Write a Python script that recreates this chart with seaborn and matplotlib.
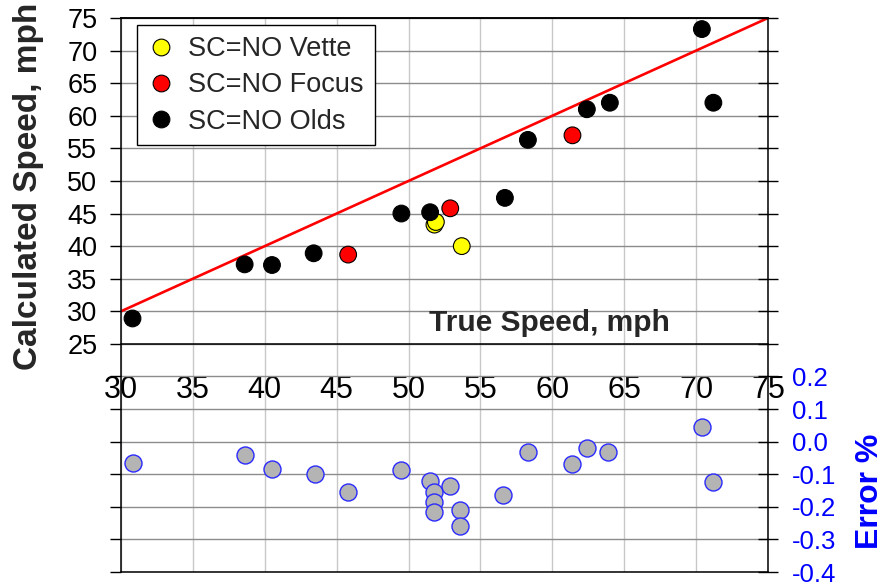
import numpy as np
import pandas as pd
import matplotlib
matplotlib.use("Agg")
import matplotlib.pyplot as plt
import seaborn as sns

sns.set_style("white")
plt.rcParams["font.family"] = ["Liberation Sans", "DejaVu Sans"]

# ---- data ----
vette_true = [51.8, 51.9, 53.7]
vette_calc = [43.3, 43.7, 40.0]
focus_true = [45.8, 52.9, 61.4]
focus_calc = [38.7, 45.8, 57.0]
olds_true = [30.8, 38.6, 40.5, 43.4, 49.5, 51.5, 56.7, 58.3, 62.4, 64.0, 70.4, 71.2]
olds_calc = [28.9, 37.2, 37.1, 38.9, 45.0, 45.2, 47.4, 56.3, 61.0, 62.0, 73.3, 62.0]
series_names = ["SC=NO Vette", "SC=NO Focus", "SC=NO Olds"]
series_colors = ["#ffff00", "#ff0000", "#000000"]

err_true = [30.8, 38.6, 40.5, 43.5, 45.8, 49.5, 51.5, 51.8, 51.8, 51.8,
            52.9, 53.6, 53.6, 56.6, 58.3, 61.4, 62.4, 63.9, 70.4, 71.2]
err_val = [-0.065, -0.040, -0.085, -0.100, -0.155, -0.088, -0.120, -0.155, -0.185, -0.217,
           -0.137, -0.210, -0.258, -0.163, -0.032, -0.070, -0.020, -0.032, 0.045, -0.125]

line_x = [30, 75]
line_y = [30, 75]

x_ticks = list(range(30, 80, 5))
y_ticks = list(range(-10, 80, 5))
err_ticks = [round(v, 1) + 0.0 for v in np.arange(-0.4, 1.31, 0.1)]

df_top = pd.DataFrame({
    "true": vette_true + focus_true + olds_true,
    "calc": vette_calc + focus_calc + olds_calc,
    "car": [series_names[0]] * len(vette_true) + [series_names[1]] * len(focus_true)
           + [series_names[2]] * len(olds_true),
})
df_err = pd.DataFrame({"true": err_true, "err": err_val})

# ---- figure ----
fig = plt.figure(figsize=(8.86, 5.88), dpi=100)
ax = fig.add_axes([121 / 886, 16 / 588, 647 / 886, 554 / 588])
ax.set_xlim(30, 75)
ax.set_ylim(-10, 75)

ax.set_axisbelow(True)
ax.grid(axis="y", color="#8c8c8c", lw=1.0)
ax.grid(axis="x", color="#c8c8c8", lw=1.0)

sns.lineplot(x=line_x, y=line_y, ax=ax, color="#ff0000", lw=1.9, zorder=2)
sns.scatterplot(data=df_top, x="true", y="calc", hue="car", hue_order=series_names,
                palette=dict(zip(series_names, series_colors)), s=145,
                edgecolor="black", linewidth=0.8, ax=ax, zorder=3)

ax.set_xticks(x_ticks)
ax.set_xticklabels([str(v) for v in x_ticks])
ax.set_yticks(y_ticks)
ax.set_yticklabels([str(v) if v >= 25 else "" for v in y_ticks])
ax.set_xlabel("")
ax.set_ylabel("")
ax.spines["bottom"].set_position(("data", 25))
ax.spines["right"].set_visible(False)
for s in ["left", "top", "bottom"]:
    ax.spines[s].set_color("black")
    ax.spines[s].set_linewidth(1.1)
ax.tick_params(axis="x", direction="out", length=6.5, width=1, labelsize=22, pad=16,
               colors="black")
ax.tick_params(axis="y", direction="out", length=8, width=1, labelsize=19.5, pad=9,
               colors="black")

handles, labels = ax.get_legend_handles_labels()
leg = ax.legend(handles, labels, loc="upper left", bbox_to_anchor=(0.0247, 0.987),
                frameon=True, fancybox=False, edgecolor="black", fontsize=19.5,
                borderpad=0.4, labelspacing=0.38, handlelength=1.0, handletextpad=0.5,
                borderaxespad=0, framealpha=1)
leg.get_frame().set_linewidth(1.0)

ax2 = ax.twinx()
ax2.set_ylim(-0.4, 1.3)
sns.scatterplot(data=df_err, x="true", y="err", ax=ax2, color="#b4b4b4",
                edgecolor="#2a2aff", s=150, linewidth=1.0, zorder=3)
ax2.set_yticks(err_ticks)
ax2.set_yticklabels([f"{v:.1f}" if v <= 0.2 else "" for v in err_ticks])
ax2.set_xlabel("")
ax2.set_ylabel("")
ax2.tick_params(axis="y", direction="inout", length=14, width=1, labelsize=18.5,
                labelcolor="#0000ff", color="black", pad=10)
for s in ["right", "top", "bottom"]:
    ax2.spines[s].set_color("black")
    ax2.spines[s].set_linewidth(1.1)
ax2.spines["left"].set_visible(False)

ax.text(59.8, 28.2, "True Speed, mph", ha="center", va="center", fontsize=21.5,
        fontweight="bold")
fig.text(29 / 886, 1 - 186 / 588, "Calculated Speed, mph", rotation=90, ha="center",
         va="center", fontsize=24, fontweight="bold")
fig.text(870 / 886, 1 - 491 / 588, "Error %", rotation=90, ha="center", va="center",
         fontsize=23, fontweight="bold", color="#0000ff")

fig.savefig("out.png", dpi=100)
